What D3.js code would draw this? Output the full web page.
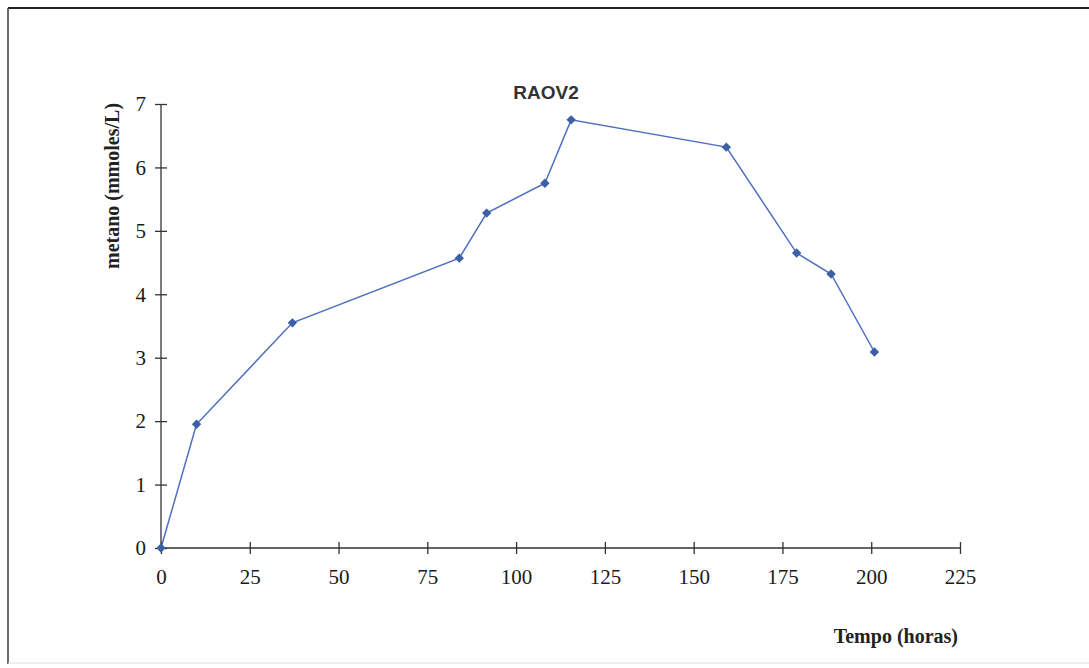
<!DOCTYPE html>
<html>
<head>
<meta charset="utf-8">
<script src="https://cdn.jsdelivr.net/npm/d3@7"></script>
<style>
  body { margin: 0; background: #fff; }
  .axis path, .axis line { stroke: #333; stroke-width: 1.3; }
  .lbl { font-family: "Liberation Serif", "Times New Roman", serif; font-weight: bold; font-size: 20px; fill: #222; }
</style>
</head>
<body>
<div id="chart"></div>
<script>
// metano series for RAOV2
var horas  = [0, 10, 37, 84, 91.7, 108.1, 115.5, 159.2, 179, 188.7, 200.9];
var metano = [0, 1.95, 3.55, 4.57, 5.28, 5.75, 6.75, 6.32, 4.65, 4.32, 3.09];
var xTicks = [0, 25, 50, 75, 100, 125, 150, 175, 200, 225];
var yTicks = [0, 1, 2, 3, 4, 5, 6, 7];

var width = 1089, height = 668;
var svg = d3.select("#chart").append("svg")
    .attr("width", width)
    .attr("height", height);

// frame around the chart (scan of a page)
svg.append("line").attr("x1", 8).attr("y1", 8).attr("x2", width).attr("y2", 8)
    .attr("stroke", "#222").attr("stroke-width", 2);
svg.append("line").attr("x1", 8).attr("y1", 8).attr("x2", 8).attr("y2", 664)
    .attr("stroke", "#444").attr("stroke-width", 1.6);
svg.append("line").attr("x1", 8).attr("y1", 663).attr("x2", width).attr("y2", 663)
    .attr("stroke", "#ddd").attr("stroke-width", 1);

var x = d3.scaleLinear().domain([0, 225]).range([161, 960]);
var y = d3.scaleLinear().domain([0, 7]).range([548, 104]);

var xAxis = d3.axisBottom(x).tickValues(xTicks).tickFormat(d3.format("d")).tickSize(0).tickPadding(21);
var gx = svg.append("g").attr("class", "axis")
    .attr("transform", "translate(0," + y(0) + ")")
    .call(xAxis);
gx.select(".domain").attr("d", "M" + x(0) + ",0H" + x(225));
gx.selectAll(".tick line").attr("y1", -6).attr("y2", 6);

var yAxis = d3.axisLeft(y).tickValues(yTicks).tickFormat(d3.format("d")).tickSize(0).tickPadding(15);
var gy = svg.append("g").attr("class", "axis")
    .attr("transform", "translate(" + x(0) + ",0)")
    .call(yAxis);
gy.select(".domain").attr("d", "M0," + y(0) + "V" + y(7));
gy.selectAll(".tick line").attr("x1", -6).attr("x2", 6);

svg.selectAll(".axis text")
    .style("font-family", "'Liberation Serif', 'Times New Roman', serif")
    .style("font-size", "21px")
    .style("fill", "#1a1a1a");

// title and axis titles
svg.append("text").attr("x", 546).attr("y", 99)
    .attr("text-anchor", "middle")
    .style("font-family", "'Liberation Sans', Arial, sans-serif")
    .style("font-weight", "bold").style("font-size", "19px").style("fill", "#333")
    .text("RAOV2");

svg.append("text").attr("class", "lbl")
    .attr("transform", "translate(119,186) rotate(-90)")
    .attr("text-anchor", "middle")
    .text("metano (mmoles/L)");

svg.append("text").attr("class", "lbl")
    .attr("x", 958).attr("y", 643)
    .attr("text-anchor", "end")
    .text("Tempo (horas)");

// series
var pts = horas.map(function(h, i) { return [h, metano[i]]; });
var line = d3.line().x(function(d) { return x(d[0]); }).y(function(d) { return y(d[1]); });

svg.append("path").datum(pts)
    .attr("fill", "none")
    .attr("stroke", "#4d6fc0")
    .attr("stroke-width", 1.5)
    .attr("d", line);

svg.selectAll(".pt").data(pts).enter().append("path")
    .attr("class", "pt")
    .attr("transform", function(d) { return "translate(" + x(d[0]) + "," + y(d[1]) + ") rotate(45)"; })
    .attr("d", d3.symbol().type(d3.symbolSquare).size(44))
    .attr("fill", "#3c5fa6");
</script>
</body>
</html>
